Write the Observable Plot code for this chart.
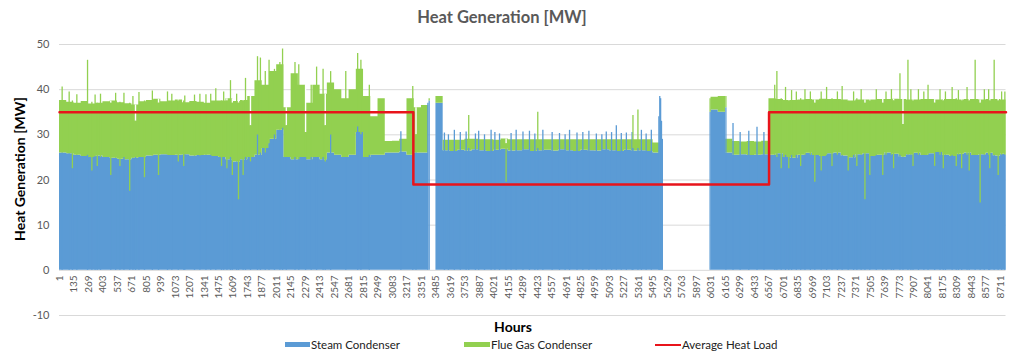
<!DOCTYPE html>
<html><head><meta charset="utf-8">
<script src="https://cdn.jsdelivr.net/npm/d3@7"></script>
<script src="https://cdn.jsdelivr.net/npm/@observablehq/plot@0.6"></script>
<style>
body{margin:0;background:#fff;font-family:Lato,"Open Sans",sans-serif;}
#wrap{position:relative;width:1023px;height:357px;overflow:hidden;background:#fff;}
#chart{position:absolute;left:0;top:0;}
.t{position:absolute;white-space:nowrap;line-height:1;}
#title{left:502px;top:9px;transform:translateX(-50%);font-size:16.5px;font-weight:bold;color:#595959;}
#ylab{left:20px;top:169px;transform:translate(-50%,-50%) rotate(-90deg);font-size:14px;font-weight:bold;color:#000;}
#xlab{left:513px;top:327px;transform:translate(-50%,-50%);font-size:14px;font-weight:bold;color:#000;}
.sw{position:absolute;}
.lt{position:absolute;top:345px;transform:translateY(-50%);font-size:11.5px;color:#222;white-space:nowrap;line-height:1;}
</style></head><body>
<div id="wrap">
  <div id="chart"></div>
  <div class="t" id="title">Heat Generation [MW]</div>
  <div class="t" id="ylab">Heat Generation [MW]</div>
  <div class="t" id="xlab">Hours</div>
  <div class="sw" style="left:285px;top:342px;width:25px;height:5px;background:#5b9bd5"></div>
  <div class="lt" style="left:311px">Steam Condenser</div>
  <div class="sw" style="left:464px;top:342px;width:26px;height:5px;background:#92d050"></div>
  <div class="lt" style="left:491px">Flue Gas Condenser</div>
  <div class="sw" style="left:655px;top:344px;width:26px;height:2px;background:#e8141b"></div>
  <div class="lt" style="left:682px">Average Heat Load</div>
</div>
<script>
// Hours are grouped in blocks of 67 consecutive hours
const binWidthHours = 67;
const steam = [
 26.0,25.8,25.5,25.2,25.0,25.3,25.0,24.8,24.6,24.5,
 24.8,25.0,25.3,25.5,25.6,25.4,25.5,25.6,25.3,25.4,
 25.5,25.2,25.0,24.5,24.0,24.5,25.0,25.5,27.0,29.0,
 31.0,25.0,24.5,25.0,24.5,25.0,24.5,26.0,25.5,25.0,
 25.5,30.5,25.0,25.5,25.5,26.0,26.0,26.2,25.5,26.0,
 26.0,0,37.0,
 26.5,26.3,26.6,26.4,26.7,26.5,26.3,26.6,26.8,26.4,
 26.5,26.7,26.3,26.5,26.6,26.4,26.7,26.5,26.3,26.6,
 26.5,26.4,26.7,26.5,26.3,26.6,26.4,26.5,26.3,26.0,
 0,0,0,0,0,0,0,
 35.5,35.0,26.0,25.5,25.6,25.4,25.5,25.6,
 25.5,25.8,25.0,24.8,25.5,25.9,25.4,25.2,25.8,26.0,
 25.3,24.9,25.6,25.8,25.2,25.5,26.0,25.7,25.1,25.6,
 25.9,25.4,25.8,26.1,25.5,25.2,25.7,26.0,25.4,25.6,
 25.9,25.3,25.7
];
const flue = [
 11.6,11.4,11.5,12.2,11.8,11.7,12.3,12.7,12.5,12.4,
 11.8,12.3,12.3,12.4,11.7,12.1,12.2,11.5,12.1,11.8,
 11.5,12.3,12.5,13.5,13.4,13.1,13.5,16.5,14.0,15.0,
 14.5,11.0,19.0,16.0,12.5,16.0,14.5,15.5,14.5,13.0,
 14.5,14.0,13.5,8.5,12.5,2.5,2.6,2.8,12.5,10.0,
 10.5,0,1.5,
 2.3,2.5,2.2,2.6,2.3,2.4,2.6,2.2,2.3,2.5,
 2.4,2.2,2.6,2.4,2.3,2.5,2.2,2.4,2.6,2.3,
 2.4,2.5,2.2,2.4,2.6,2.3,2.5,2.4,2.6,2.2,
 0,0,0,0,0,0,0,
 2.8,3.5,3.0,3.0,2.8,3.1,2.9,3.0,
 12.5,12.0,12.6,12.8,12.2,11.9,12.3,12.7,12.0,11.8,
 12.4,12.6,12.1,11.9,12.5,12.3,11.8,12.2,12.7,12.1,
 11.8,12.4,12.0,11.6,12.3,12.6,12.0,11.8,12.4,12.1,
 11.9,12.5,12.0
];
// individual hours that stand out (peaks and dips)
const spikeHour = [25,161,260,475,597,650,704,736,787,860,917,1000,1100,1250,1356,1447,1583,1600,1657,1700,1722,1768,
 1833,1860,1905,1940,1990,2040,2065,2100,2180,2215,2278,2330,2380,2440,2460,2510,2650,2760,2790,2868,
 3160,3270,3300,3410,3422,
 3563,3655,3764,3934,3995,4073,4227,4350,4474,4628,4721,4844,4969,5061,5154,5247,5386,5478,
 3788,4134,4427,5308,5354,
 5548,5556,5564,5572,5580,
 6022,6168,6234,6300,6380,6456,6520,
 6620,6640,6680,6776,6900,6991,7100,7150,7244,7300,7455,7500,7560,7620,7700,7779,7807,7853,7950,8039,8100,8262,8350,8400,8475,8521,8600,8651,8688,8720,
 90,120,300,330,350,380,520,560,680,1040,1150,1160,1300,1400,1500,1520,1550,1640,
 3600,3710,3850,3880,4030,4180,4290,4400,4560,4680,4790,4900,5020,5110,5200,5300,5430,
 6720,6750,6820,6860,6950,7050,7200,7350,7380,7420,7650,7720,7880,7900,8000,8150,8180,8200,8300,8320,8420,8560,8610,8750];
const spikeSteam = [26.0,25.5,25.5,21.0,25.0,17.5,25.0,25.0,20.5,25.3,21.0,25.5,24.0,25.3,25.5,25.2,25.0,21.0,15.6,21.0,25.0,24.0,
 30.0,26.0,26.0,28.0,30.0,31.0,31.5,25.0,25.0,24.5,25.0,25.0,25.0,25.0,24.0,30.0,25.0,31.8,30.0,25.5,
 30.7,25.5,26.0,37.0,37.5,
 30.4,31.0,30.6,30.0,31.0,30.2,31.0,30.8,31.0,30.3,31.0,30.5,30.2,30.6,32.0,30.4,31.0,31.0,
 27.0,19.5,27.0,27.0,27.0,
 34.0,38.5,38.0,33.0,29.0,
 35.0,36.0,32.5,30.5,30.8,31.7,30.5,
 25.5,25.0,22.5,25.5,25.5,19.5,25.5,23.0,25.5,22.0,15.6,21.0,25.5,21.0,25.5,25.5,25.0,25.5,25.5,25.5,23.0,25.5,22.5,25.5,25.5,14.9,25.5,25.5,21.0,25.5,
 25.8,22.5,22.0,25.2,23.0,25.0,24.8,23.0,24.8,25.4,23.0,25.6,25.3,25.5,23.0,25.0,22.5,24.0,
 30.0,30.5,30.2,30.8,30.5,30.3,30.6,30.2,30.5,30.0,30.4,30.8,30.0,30.5,30.3,30.5,30.2,
 25.5,22.5,25.5,23.0,25.5,22.0,25.5,25.5,23.0,25.5,25.5,22.5,25.5,23.0,25.5,25.5,22.5,25.5,23.0,25.5,22.0,25.5,22.5,25.5];
const spikeFlue = [14.6,13.4,21.0,16.0,14.2,19.5,8.0,14.4,17.0,14.4,16.0,14.0,13.5,13.5,13.4,15.0,17.0,16.0,21.4,16.5,17.5,8.0,
 17.3,21.0,18.0,18.5,14.5,15.0,17.5,7.0,21.0,21.0,5.5,16.0,20.0,19.5,8.0,14.0,19.0,16.2,16.5,15.5,
 0,15.2,4.0,0,0.5,
 0,0,0,0,0,0,0,0,0,0,0,0,0,0,0,0,0,0,
 7.3,8.5,8.0,7.3,8.5,
 0,0,0,0,0,
 3.0,2.5,0,0,0,0,0,
 15.5,19.0,15.5,14.3,14.5,17.5,15.0,15.0,15.2,15.5,21.4,16.5,14.5,16.0,14.5,18.0,7.3,21.0,14.5,15.5,14.0,15.0,15.0,15.0,21.0,22.1,14.5,21.0,16.5,14.0,
 13.7,15.0,15.2,13.6,14.0,14.0,14.4,14.2,13.7,13.6,14.5,13.0,13.7,13.5,14.5,14.5,15.0,15.0,
 0,0,0,0,0,0,0,0,0,0,0,0,0,0,0,0,0,
 15.0,15.0,14.0,15.0,14.0,17.5,14.0,14.0,15.0,14.5,14.0,15.0,14.5,14.5,14.0,14.5,15.0,14.0,15.0,14.3,15.5,14.5,15.0,14.0];
// Average heat load (step changes)
const loadStart = [1, 3276, 6568];
const loadValue = [35, 19, 35];
const lastHour = 8760;
const xTickLabels = [1,135,269,403,537,671,805,939,1073,1207,1341,1475,1609,1743,1877,2011,2145,2279,2413,2547,2681,2815,2949,3083,3217,3351,3485,3619,3753,3887,4021,4155,4289,4423,4557,4691,4825,4959,5093,5227,5361,5495,5629,5763,5897,6031,6165,6299,6433,6567,6701,6835,6969,7103,7237,7371,7505,7639,7773,7907,8041,8175,8309,8443,8577,8711];
const yTicks = [-10,0,10,20,30,40,50];

const BLUE = "#5b9bd5", GREEN = "#92d050", RED = "#e8141b";

const bins = steam.map((s, i) => ({h: 0.5 + i * binWidthHours, steam: s, total: s + flue[i]}));
const lastB = bins[bins.length - 1];
bins.push({h: lastHour + 0.5, steam: lastB.steam, total: lastB.total});
const binTotalAt = h => { const b = bins[Math.min(Math.floor((h - 0.5) / binWidthHours), steam.length - 1)]; return b.total; };

const spikes = spikeHour.map((h, i) => ({h, steam: spikeSteam[i], total: spikeSteam[i] + spikeFlue[i], binTotal: binTotalAt(h)}));
const dips = spikes.filter(d => d.binTotal > d.total);
const load = loadStart.map((h, i) => ({h: h - 0.5, v: loadValue[i]}));
load.push({h: lastHour + 0.5, v: loadValue[loadValue.length - 1]});

const chart = Plot.plot({
  width: 1023, height: 357,
  marginLeft: 59, marginRight: 17.5, marginTop: 44, marginBottom: 42,
  style: {fontFamily: "Lato, 'Open Sans', sans-serif", background: "transparent", overflow: "visible"},
  x: {domain: [0.5, lastHour + 0.5], axis: null},
  y: {domain: [-10, 50], axis: null},
  marks: [
    Plot.ruleY(yTicks, {stroke: "#d9d9d9", strokeWidth: 1}),
    Plot.areaY(bins, {x: "h", y1: 0, y2: "steam", curve: "step-after", fill: BLUE}),
    Plot.areaY(bins, {x: "h", y1: "steam", y2: "total", curve: "step-after", fill: GREEN}),
    Plot.ruleX(dips, {x: "h", y1: "total", y2: "binTotal", stroke: "#fff", strokeWidth: 1.4}),
    Plot.ruleX(spikes, {x: "h", y1: 0, y2: "steam", stroke: BLUE, strokeWidth: 1.3}),
    Plot.ruleX(spikes.filter(d => d.total > d.steam), {x: "h", y1: "steam", y2: "total", stroke: GREEN, strokeWidth: 1.3}),
    Plot.line(load, {x: "h", y: "v", curve: "step-after", stroke: RED, strokeWidth: 2.5}),
    Plot.text(yTicks, {frameAnchor: "left", y: d => d, text: d => String(d), textAnchor: "end", dx: -10, fill: "#595959", fontSize: 11}),
    Plot.text(xTickLabels, {x: d => d, y: 0, text: d => String(d), rotate: -90, textAnchor: "end", dy: 5, fill: "#595959", fontSize: 10})
  ]
});
document.getElementById("chart").appendChild(chart);
</script>
</body></html>
